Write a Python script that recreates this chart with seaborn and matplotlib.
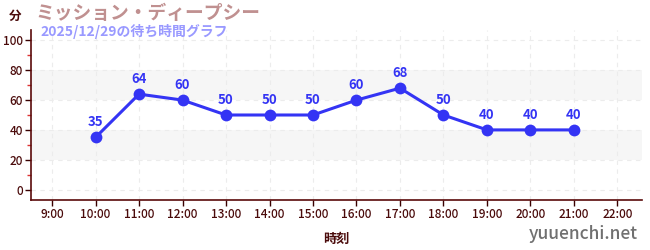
import matplotlib
matplotlib.use("Agg")
import matplotlib.pyplot as plt
import seaborn as sns
import pandas as pd
from matplotlib.ticker import MultipleLocator

hours = [10, 11, 12, 13, 14, 15, 16, 17, 18, 19, 20, 21]
waits = [35, 64, 60, 50, 50, 50, 60, 68, 50, 40, 40, 40]
tick_hours = list(range(9, 23))
tick_labels = [f"{h}:00" for h in tick_hours]
title = "ミッション・ディープシー"
subtitle = "2025/12/29の待ち時間グラフ"

sns.set_theme(style="white")
plt.rcParams['font.family'] = ['Noto Sans CJK JP', 'DejaVu Sans']

df = pd.DataFrame({"hour": hours, "wait": waits})

fig = plt.figure(figsize=(6.5, 2.5), dpi=100)
ax = fig.add_axes([0.048, 0.2, 0.94, 0.68])

for lo, hi in [(20, 40), (60, 80)]:
    ax.axhspan(lo, hi, color="#f6f6f6", zorder=0, lw=0)

line_color = "#3434f4"
sns.lineplot(data=df, x="hour", y="wait", ax=ax, color=line_color, lw=2.2,
             marker="o", markersize=8.5, markeredgewidth=0, zorder=3)
for h, w in zip(hours, waits):
    ax.annotate(str(w), (h, w), xytext=(0, 6), textcoords="offset points",
                ha="center", va="bottom", color=line_color, fontsize=9.5, fontweight="bold")

ax.set_xlim(8.52, 22.57)
ax.set_ylim(-7, 107)
ax.set_xticks(tick_hours)
ax.set_xticklabels(tick_labels)
ax.set_yticks([0, 20, 40, 60, 80, 100])
ax.yaxis.set_minor_locator(MultipleLocator(10))
ax.grid(True, which="major", color="#ececec", ls=(0, (4, 4)), lw=0.8)
ax.set_axisbelow(True)

for s in ["top", "right"]:
    ax.spines[s].set_visible(False)
for s in ["left", "bottom"]:
    ax.spines[s].set_color("#5a0a0a")
    ax.spines[s].set_linewidth(1.2)

ax.tick_params(axis="both", which="major", length=4, width=1, color="#3a0000",
               labelcolor="#4a0a0a", labelsize=8.5, pad=2, direction="out")
ax.tick_params(axis="y", which="minor", length=3, width=1, color="#dd3333", left=True)
ax.tick_params(axis="x", bottom=True)
ax.tick_params(axis="y", left=True)
for lbl in ax.get_xticklabels() + ax.get_yticklabels():
    lbl.set_fontweight("medium")

ax.set_xlabel("時刻", color="#4a0a0a", fontsize=9.5, fontweight="bold", labelpad=8)
ax.set_ylabel("")

fig.text(0.013, 0.935, "分", color="#4a0a0a", fontsize=9, fontweight="bold", va="center")
fig.text(0.055, 0.945, title, color="#c09090", fontsize=13.5, fontweight="bold", va="center")
fig.text(0.062, 0.875, subtitle, color="#9999ff", fontsize=10, fontweight="bold", va="center")
fig.text(0.982, 0.065, "yuuenchi.net", color="#707070", fontsize=12.5, ha="right", va="center",
         fontweight="medium")

fig.savefig("out.png", dpi=100)
